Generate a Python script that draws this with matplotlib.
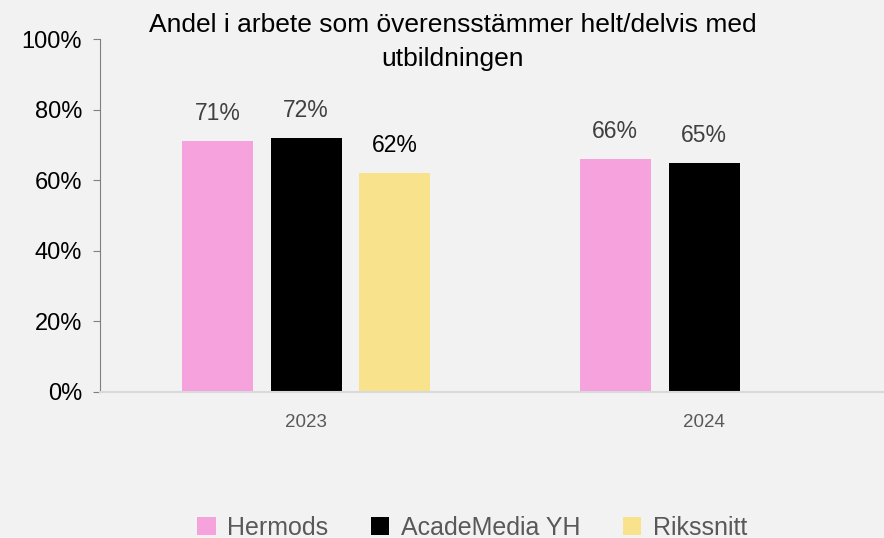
import numpy as np
import matplotlib.pyplot as plt

plt.rcParams['font.family'] = ['Liberation Sans', 'DejaVu Sans']

years = ['2023', '2024']
hermods = [71, 66]
academedia = [72, 65]
rikssnitt = [62, np.nan]

series = ['Hermods', 'AcadeMedia YH', 'Rikssnitt']
colors = ['#F5A2DD', '#000000', '#F8E38C']
label_colors = ['#404040', '#404040', '#000000']

bg = '#F2F2F2'
fig = plt.figure(figsize=(8.84, 5.38), dpi=100, facecolor=bg)
ax = fig.add_axes([100/884, 1-392/538, 1-100/884, (392-39)/538], facecolor=bg)

x = np.arange(len(years))
offs = [-0.223, 0, 0.223]
w = 0.178
handles = []
for vals, off, c, lc, name in zip([hermods, academedia, rikssnitt], offs, colors, label_colors, series):
    b = ax.bar(x + off, vals, w, color=c, label=name)
    handles.append(b)
    for xi, v in zip(x + off, vals):
        if not np.isnan(v):
            ax.text(xi, v + 4.5, f'{v:.0f}%', ha='center', va='bottom', fontsize=16.5, color=lc)

ax.set_ylim(0, 100)
ax.set_xlim(-0.518, 1.452)
ax.set_yticks(range(0, 101, 20))
ax.set_yticklabels([f'{t}%' for t in range(0, 101, 20)], fontsize=17, color='black')
ax.set_xticks(x)
ax.set_xticklabels(years, fontsize=13.5, color='#595959')
ax.tick_params(axis='x', length=0, pad=16)
ax.tick_params(axis='y', length=5, color='#7F7F7F', pad=8)
for s in ['top', 'right']:
    ax.spines[s].set_visible(False)
ax.spines['left'].set_color('#7F7F7F')
ax.spines['bottom'].set_color('#D9D9D9')
ax.spines['bottom'].set_linewidth(1.5)

fig.text(453/884, 1-42/538, 'Andel i arbete som överensstämmer helt/delvis med\nutbildningen',
         ha='center', va='center', fontsize=19, color='black', linespacing=1.5)

fig.legend(handles=handles, loc='center', bbox_to_anchor=(472/884, 1-528/538), ncol=3,
           frameon=False, fontsize=18, labelcolor='#595959', handlelength=0.75, handleheight=0.75,
           columnspacing=1.7, handletextpad=0.45)

fig.savefig('out.png', dpi=100, facecolor=bg)
